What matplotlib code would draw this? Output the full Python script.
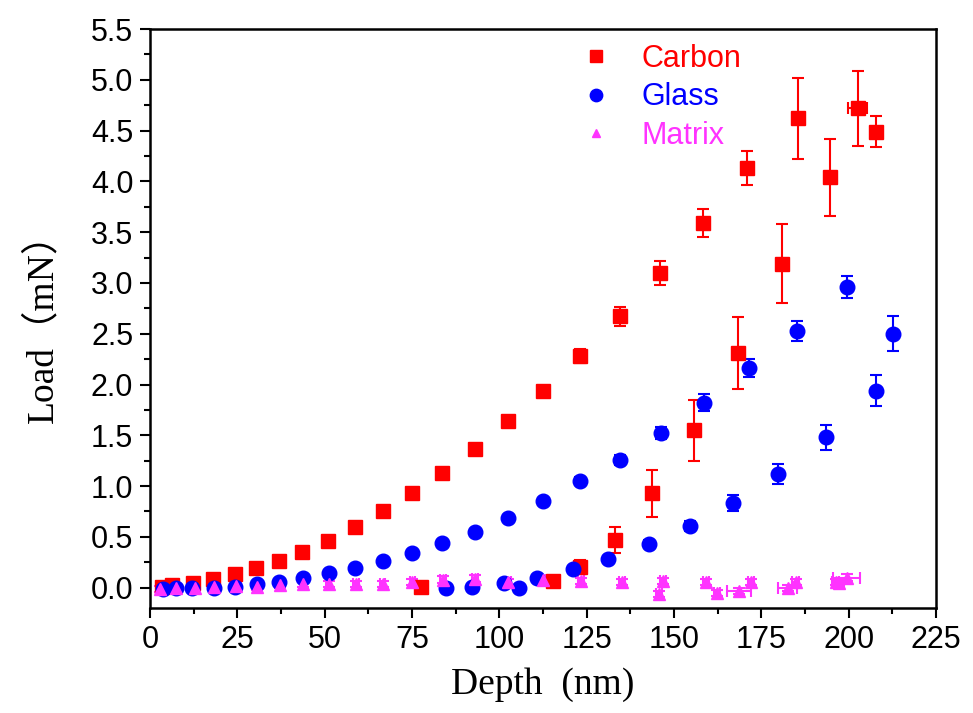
import numpy as np
import matplotlib
matplotlib.use("Agg")
import matplotlib.pyplot as plt
from matplotlib.ticker import MultipleLocator

# ----------------------------
# DATA
# ----------------------------
carbon_x = [3.4, 6.3, 12.3, 18.0, 24.3, 30.3, 37.0, 43.4, 51.0, 58.6, 66.6, 75.0,
            83.7, 93.0, 102.6, 112.6, 123.0, 134.6, 146.0, 158.3, 171.0, 185.4,
            202.6, 207.7,
            77.5, 115.4, 123.0, 133.0, 143.7, 155.7, 168.3, 181.0, 194.6]
carbon_y = [0.01, 0.03, 0.05, 0.09, 0.13, 0.19, 0.26, 0.35, 0.46, 0.60, 0.75, 0.93,
            1.13, 1.37, 1.64, 1.94, 2.28, 2.67, 3.10, 3.59, 4.13, 4.62,
            4.72, 4.49,
            0.01, 0.07, 0.20, 0.47, 0.93, 1.55, 2.31, 3.19, 4.04]
carbon_yerr = [0.01, 0.01, 0.01, 0.02, 0.02, 0.02, 0.02, 0.02, 0.02, 0.02, 0.03, 0.03,
               0.03, 0.03, 0.04, 0.05, 0.07, 0.09, 0.12, 0.14, 0.17, 0.40,
               0.37, 0.15,
               0.02, 0.02, 0.07, 0.13, 0.23, 0.30, 0.35, 0.39, 0.38]
carbon_xerr = [0] * 22 + [2.7, 0] + [0] * 9

glass_x = [3.7, 7.4, 12.0, 18.3, 24.3, 30.6, 36.9, 43.7, 51.1, 58.6, 66.6, 75.1,
           83.7, 92.9, 102.6, 112.6, 123.2, 134.6, 146.2, 158.5, 171.5, 185.1, 199.5,
           84.6, 92.3, 101.4, 105.7, 110.9, 121.1, 131.1, 142.9, 154.6, 166.9,
           179.7, 193.4, 207.7, 212.6]
glass_y = [-0.01, 0.0, 0.0, 0.0, 0.01, 0.04, 0.06, 0.10, 0.14, 0.19, 0.26, 0.34,
           0.44, 0.55, 0.69, 0.85, 1.05, 1.26, 1.52, 1.82, 2.16, 2.53, 2.96,
           0.0, 0.01, 0.05, 0.0, 0.10, 0.18, 0.28, 0.43, 0.61, 0.83,
           1.12, 1.48, 1.94, 2.50]
glass_yerr = [0.01, 0.01, 0.01, 0.01, 0.01, 0.02, 0.02, 0.02, 0.02, 0.02, 0.02, 0.02,
              0.02, 0.03, 0.03, 0.03, 0.04, 0.05, 0.06, 0.085, 0.09, 0.10, 0.11,
              0.02, 0.02, 0.02, 0.02, 0.02, 0.03, 0.03, 0.04, 0.05, 0.08,
              0.10, 0.12, 0.15, 0.17]

matrix_x = [2.9, 7.4, 12.9, 18.3, 24.6, 30.6, 37.1, 43.7, 51.1, 58.9, 66.6, 75.1,
            83.8, 93.1, 102.6, 112.6, 123.4, 135.1, 146.9, 145.7, 159.1, 162.3,
            168.6, 172.0, 182.6, 184.9, 196.3, 197.1, 199.4]
matrix_y = [-0.01, 0.0, 0.0, 0.01, 0.02, 0.01, 0.03, 0.04, 0.04, 0.04, 0.04, 0.06,
            0.08, 0.09, 0.06, 0.08, 0.07, 0.06, 0.07, -0.06, 0.06, -0.05,
            -0.03, 0.06, 0.0, 0.06, 0.06, 0.05, 0.10]
matrix_yerr = [0.03] * 29
matrix_xerr = [0.8] * 22 + [3.4, 0.8, 2.7, 1.0, 1.0, 1.5, 3.9]

# ----------------------------
# PLOT
# ----------------------------
fig = plt.figure(figsize=(9.73, 7.13), dpi=100)
ax = fig.add_axes([0.1542, 0.1473, 0.8078, 0.812])

common = dict(linestyle="none", capsize=4.3, elinewidth=1.5, capthick=1.5)
ax.errorbar(carbon_x, carbon_y, yerr=carbon_yerr, xerr=carbon_xerr,
            marker="s", markersize=9.5, color="#ff0000", label="Carbon", **common)
ax.errorbar(glass_x, glass_y, yerr=glass_yerr,
            marker="o", markersize=10.5, color="#0000ff", label="Glass", **common)
ax.errorbar(matrix_x, matrix_y, yerr=matrix_yerr, xerr=matrix_xerr,
            marker="^", markersize=8, color="#ff33ff", label="Matrix", **common)

ax.set_xlim(0, 225)
ax.set_ylim(-0.2, 5.5)
ax.xaxis.set_major_locator(MultipleLocator(25))
ax.xaxis.set_minor_locator(MultipleLocator(12.5))
ax.yaxis.set_major_locator(MultipleLocator(0.5))
ax.yaxis.set_minor_locator(MultipleLocator(0.25))
ax.yaxis.set_major_formatter(plt.FuncFormatter(lambda v, p: f"{v:.1f}"))

ax.tick_params(which="both", direction="out", top=False, right=False, width=1.5)
ax.tick_params(which="major", length=7, labelsize=22, pad=5)
ax.tick_params(which="minor", length=4)
for lab in ax.get_xticklabels() + ax.get_yticklabels():
    lab.set_family("Liberation Sans")
for s in ax.spines.values():
    s.set_linewidth(1.8)

ax.set_xlabel("Depth  (nm)", fontsize=27, family=["Liberation Serif"], labelpad=9)
ax.set_ylabel("Load（mN）", fontsize=27,
              family=["Liberation Serif", "Noto Sans CJK SC"], labelpad=22)

handles, labels = ax.get_legend_handles_labels()
handles = [h[0] for h in handles]
leg = ax.legend(handles, labels, loc="upper left", bbox_to_anchor=(0.513, 1.022),
                frameon=False, handletextpad=1.0, handlelength=1.0,
                labelspacing=0.28, prop={"family": "Liberation Sans", "size": 22},
                markerscale=0.85)
for txt, c in zip(leg.get_texts(), ["#ff0000", "#0000ff", "#ff33ff"]):
    txt.set_color(c)
leg.legend_handles[2].set_markersize(5.5)

plt.savefig("out.png", dpi=100)
